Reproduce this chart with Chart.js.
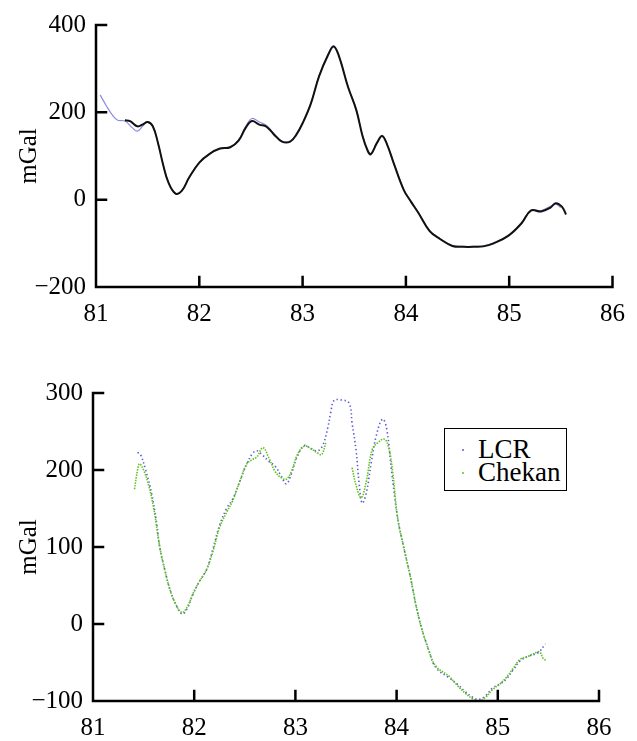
<!DOCTYPE html>
<html>
<head>
<meta charset="utf-8">
<script src="https://cdn.jsdelivr.net/npm/chart.js@4"></script>
<style>
  body { margin: 0; background: #fff; }
  .panel { position: absolute; left: 0; width: 637px; }
  #legend {
    position: absolute; left: 444px; top: 428px; width: 121px; height: 61px;
    border: 1.5px solid #000; background: #fff;
    font-family: "Liberation Serif", serif; font-size: 27px; line-height: 23px;
  }
  #legend div { position: absolute; left: 33px; }
  #legend span { position: absolute; left: -16px; top: 11px; width: 2px; height: 2px; border-radius: 1px; }
</style>
</head>
<body>
<div class="panel" style="top:0;height:330px"><canvas id="top"></canvas></div>
<div class="panel" style="top:360px;height:381px"><canvas id="bottom"></canvas></div>
<div id="legend">
  <div style="top:9px"><span style="background:#5a5ad2"></span>LCR</div>
  <div style="top:32px"><span style="background:#5ec41c"></span>Chekan</div>
</div>
<script>
// top panel: two profiles, x in degrees, y in mGal
const topX1 = [81.28, 81.33, 81.40, 81.45, 81.50, 81.55, 81.60, 81.65, 81.70, 81.77, 81.83, 81.90, 82.00, 82.10, 82.20, 82.30, 82.38, 82.45, 82.51, 82.58, 82.65, 82.72, 82.80, 82.88, 82.94, 83.00, 83.08, 83.16, 83.25, 83.30, 83.35, 83.44, 83.52, 83.58, 83.63, 83.66, 83.72, 83.77, 83.82, 83.88, 83.98, 84.05, 84.12, 84.23, 84.33, 84.45, 84.55, 84.67, 84.75, 84.85, 84.99, 85.12, 85.21, 85.31, 85.40, 85.45, 85.51, 85.55];
const topY1 = [182, 180, 168, 172, 178, 168, 130, 80, 40, 14, 20, 50, 85, 105, 117, 120, 135, 165, 180, 172, 167, 150, 133, 133, 149, 175, 220, 283, 333, 351, 330, 258, 205, 146, 112, 104, 130, 146, 125, 85, 22, -5, -30, -72, -90, -106, -108, -108, -107, -100, -83, -54, -25, -27, -18, -8, -16, -34];
const topX2 = [81.04, 81.10, 81.17, 81.21, 81.28, 81.35, 81.40, 81.45, 81.50, 81.55, 81.60, 81.65, 81.70, 81.77, 81.83, 81.90, 82.00, 82.10, 82.20, 82.30, 82.38, 82.45, 82.51, 82.58, 82.65, 82.72, 82.80, 82.88, 82.94, 83.00, 83.08, 83.16, 83.25, 83.30, 83.35, 83.44, 83.52, 83.58, 83.63, 83.66, 83.72, 83.77, 83.82, 83.88, 83.98, 84.05, 84.12, 84.23, 84.33, 84.45, 84.55, 84.67, 84.75, 84.85, 84.99, 85.12, 85.21, 85.31, 85.40, 85.45, 85.50];
const topY2 = [240, 215, 190, 182, 180, 165, 157, 168, 178, 168, 130, 80, 40, 14, 20, 50, 85, 105, 117, 121, 137, 168, 186, 178, 170, 152, 134, 134, 150, 176, 221, 284, 335, 353, 331, 259, 206, 148, 114, 105, 131, 147, 126, 86, 23, -4, -29, -71, -89, -105, -107, -107, -106, -99, -82, -52, -24, -25, -15, -10, -18];

// bottom panel: LCR and Chekan
const lcrX = [81.44, 81.47, 81.52, 81.58, 81.63, 81.66, 81.71, 81.76, 81.82, 81.88, 81.93, 81.99, 82.05, 82.12, 82.18, 82.25, 82.32, 82.38, 82.45, 82.52, 82.58, 82.62, 82.67, 82.74, 82.80, 82.86, 82.91, 82.96, 83.02, 83.09, 83.15, 83.22, 83.27, 83.32, 83.35, 83.38, 83.45, 83.53, 83.56, 83.60, 83.63, 83.66, 83.70, 83.75, 83.80, 83.86, 83.90, 83.95, 84.01, 84.07, 84.13, 84.22, 84.32, 84.39, 84.52, 84.60, 84.68, 84.75, 84.81, 84.88, 84.95, 85.02, 85.08, 85.15, 85.22, 85.30, 85.40, 85.47];
const lcrY = [223, 220, 200, 169, 130, 99, 70, 45, 25, 13, 20, 39, 55, 70, 95, 128, 150, 162, 185, 208, 222, 225, 220, 211, 205, 192, 182, 195, 218, 232, 228, 225, 232, 255, 275, 290, 291, 287, 261, 225, 182, 157, 170, 210, 245, 266, 255, 199, 138, 100, 65, 8, -35, -57, -70, -78, -88, -95, -98, -93, -83, -78, -72, -60, -48, -42, -37, -26];
const chekanX = [81.41, 81.44, 81.46, 81.50, 81.55, 81.60, 81.66, 81.71, 81.76, 81.82, 81.88, 81.93, 81.99, 82.05, 82.12, 82.18, 82.25, 82.32, 82.38, 82.45, 82.52, 82.58, 82.62, 82.68, 82.74, 82.80, 82.86, 82.91, 82.96, 83.02, 83.09, 83.15, 83.22, 83.26, 83.30, 83.43, 83.56, 83.60, 83.65, 83.70, 83.76, 83.82, 83.88, 83.92, 83.96, 84.01, 84.07, 84.13, 84.22, 84.32, 84.39, 84.52, 84.60, 84.68, 84.75, 84.81, 84.88, 84.95, 85.02, 85.08, 85.15, 85.22, 85.30, 85.40, 85.42, 85.45, 85.48];
const chekanY = [175, 200, 208, 200, 180, 150, 100, 70, 45, 25, 15, 22, 40, 55, 70, 92, 125, 145, 160, 185, 208, 214, 217, 229, 215, 198, 190, 188, 198, 220, 231, 228, 222, 220, 235, null, 203, 180, 164, 185, 227, 236, 240, 230, 199, 138, 100, 65, 8, -35, -55, -68, -80, -90, -97, -100, -95, -85, -78, -70, -58, -46, -42, -36, -37, -45, -47];

Chart.defaults.font.family = "'Liberation Serif', serif";
Chart.defaults.font.size = 25;
Chart.defaults.color = '#000';

function pts(xs, ys) {
  return xs.map(function (x, i) { return { x: x, y: ys[i] }; });
}

function minusLabel(v) {
  return v < 0 ? '\u2212' + Math.abs(v) : '' + v;
}

// axis lines with tick marks pointing into the plot
const axesPlugin = {
  id: 'axes',
  afterDraw: function (chart) {
    const ctx = chart.ctx;
    const a = chart.chartArea;
    const xs = chart.scales.x;
    const ys = chart.scales.y;
    ctx.save();
    ctx.strokeStyle = '#000';
    ctx.lineWidth = 2.5;
    ctx.lineCap = 'square';
    ctx.beginPath();
    ctx.moveTo(a.left, a.top);
    ctx.lineTo(a.left, a.bottom);
    ctx.lineTo(a.right, a.bottom);
    xs.ticks.forEach(function (t) {
      const px = xs.getPixelForValue(t.value);
      ctx.moveTo(px, a.bottom);
      ctx.lineTo(px, a.bottom - 10);
    });
    ys.ticks.forEach(function (t) {
      const py = ys.getPixelForValue(t.value);
      ctx.moveTo(a.left, py);
      ctx.lineTo(a.left + 10, py);
    });
    ctx.stroke();
    ctx.restore();
  }
};

function makeChart(id, datasets, yMin, yMax, yStep, pad, yWidth, xHeight) {
  return new Chart(document.getElementById(id), {
    type: 'line',
    data: { datasets: datasets },
    options: {
      responsive: true,
      maintainAspectRatio: false,
      animation: false,
      devicePixelRatio: 1,
      layout: { padding: pad },
      plugins: { legend: { display: false }, tooltip: { enabled: false } },
      elements: { point: { radius: 0 } },
      scales: {
        x: {
          type: 'linear', min: 81, max: 86,
          ticks: { stepSize: 1, color: '#000', padding: 12, maxRotation: 0 },
          grid: { display: false, drawTicks: false }, border: { display: false },
          afterFit: function (s) { s.height = xHeight; }
        },
        y: {
          min: yMin, max: yMax,
          ticks: { stepSize: yStep, color: '#000', padding: 10, callback: minusLabel },
          grid: { display: false, drawTicks: false }, border: { display: false },
          title: { display: true, text: 'mGal', color: '#000', padding: { top: 14, bottom: 0 } },
          afterFit: function (s) { s.width = yWidth; }
        }
      }
    },
    plugins: [axesPlugin]
  });
}

makeChart('top', [
  { data: pts(topX1, topY1), borderColor: '#111', borderWidth: 2, tension: 0.4, order: 0 },
  { data: pts(topX2, topY2), borderColor: '#8a8ae0', borderWidth: 1.2, tension: 0.4, order: 1 }
], -200, 400, 200, { top: 20, right: 14, left: 0, bottom: 0 }, 96, 43);

makeChart('bottom', [
  { data: pts(chekanX, chekanY), borderColor: '#5ec41c', borderWidth: 1.6, borderDash: [1.5, 1.2], tension: 0.4, spanGaps: false, order: 0 },
  { data: pts(lcrX, lcrY), borderColor: '#5a5ad2', borderWidth: 1.6, borderDash: [1.4, 2.6], tension: 0.4, order: 1 }
], -100, 300, 100, { top: 33, right: 38, left: 0, bottom: 0 }, 93, 40);
</script>
</body>
</html>
